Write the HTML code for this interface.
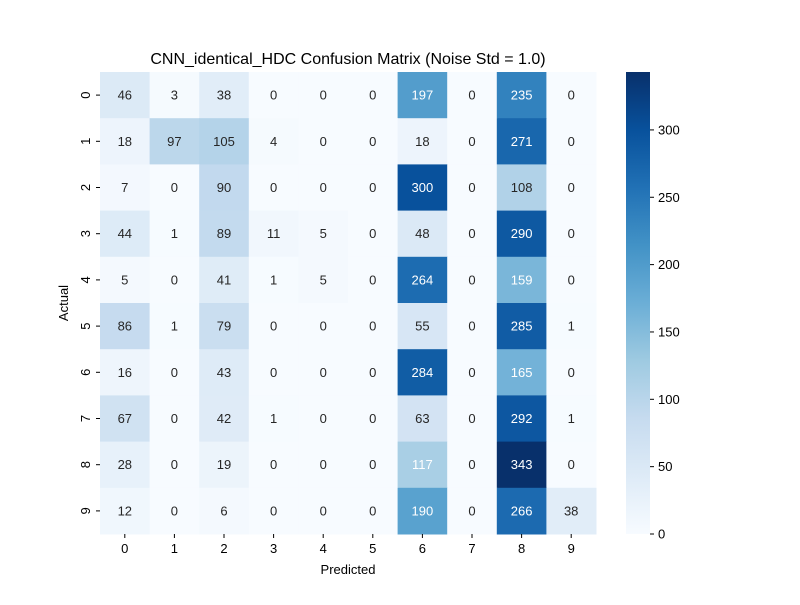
<!DOCTYPE html>
<html><head><meta charset="utf-8"><style>
body{margin:0;background:#fff;font-family:"Liberation Sans","DejaVu Sans",sans-serif;}
</style></head><body>
<svg id="chart" width="800" height="600" xmlns="http://www.w3.org/2000/svg">
<rect width="800" height="600" fill="#fff"/>
<text x="348" y="64" text-anchor="middle" font-size="16" fill="#000">CNN_identical_HDC Confusion Matrix (Noise Std = 1.0)</text>
<g id="cells"></g>
<g id="axes"></g>
<defs><linearGradient id="cbg" x1="0" y1="1" x2="0" y2="0"></linearGradient></defs>
<g id="cbar"></g>
</svg>
<script>
const labels = ['0','1','2','3','4','5','6','7','8','9'];
const row0 = [46,3,38,0,0,0,197,0,235,0];
const row1 = [18,97,105,4,0,0,18,0,271,0];
const row2 = [7,0,90,0,0,0,300,0,108,0];
const row3 = [44,1,89,11,5,0,48,0,290,0];
const row4 = [5,0,41,1,5,0,264,0,159,0];
const row5 = [86,1,79,0,0,0,55,0,285,1];
const row6 = [16,0,43,0,0,0,284,0,165,0];
const row7 = [67,0,42,1,0,0,63,0,292,1];
const row8 = [28,0,19,0,0,0,117,0,343,0];
const row9 = [12,0,6,0,0,0,190,0,266,38];
const matrix = [row0,row1,row2,row3,row4,row5,row6,row7,row8,row9];
const cbTicks = [0,50,100,150,200,250,300];

const NS='http://www.w3.org/2000/svg';
const X0=100,Y0=72,W=496,H=462,n=labels.length;
const cw=W/n,ch=H/n;
const vmax=Math.max(...matrix.flat()),vmin=0;
const stops=['#f7fbff','#deebf7','#c6dbef','#9ecae1','#6baed6','#4292c6','#2171b5','#08519c','#08306b'];
function hx(h){return [1,3,5].map(i=>parseInt(h.substr(i,2),16));}
function color(v){let t=(v-vmin)/(vmax-vmin);t=Math.max(0,Math.min(1,t));const p=t*8,i=Math.min(7,Math.floor(p)),f=p-i;const a=hx(stops[i]),b=hx(stops[i+1]);return 'rgb('+a.map((c,k)=>Math.round(c+(b[k]-c)*f)).join(',')+')';}
const xs=j=>X0+j*cw, ys=i=>Y0+i*ch;
function mk(tag,attrs,parent,txt){const e=document.createElementNS(NS,tag);for(const k in attrs)e.setAttribute(k,attrs[k]);if(txt!==undefined)e.textContent=txt;parent.appendChild(e);return e;}
const cells=document.getElementById('cells');
matrix.forEach((row,i)=>row.forEach((v,j)=>{
 const r=mk('rect',{x:xs(j),y:ys(i),width:cw+0.5,height:ch+0.5,fill:color(v)},cells);
 
 
 const t=mk('text',{x:xs(j)+cw/2,y:ys(i)+ch/2+4.5,'text-anchor':'middle','font-size':13,fill:((v-vmin)/(vmax-vmin))>0.33?'#fff':'#262626'},cells,String(v));
 
 
}));
const ax=document.getElementById('axes');
labels.forEach((l,j)=>{
 const cx=xs(j)+cw/2;
 mk('line',{x1:cx,x2:cx,y1:Y0+H,y2:Y0+H+4,stroke:'#000'},ax);
 const t=mk('text',{x:cx,y:Y0+H+19,'text-anchor':'middle','font-size':13},ax,l);
 
 
 const cy=ys(j)+ch/2;
 mk('line',{x1:X0-4,x2:X0,y1:cy,y2:cy,stroke:'#000'},ax);
 const t2=mk('text',{x:0,y:0,'text-anchor':'middle','font-size':13,transform:'translate('+(X0-10)+','+cy+') rotate(-90)'},ax,l);
 
 
});
const xt=mk('text',{x:X0+W/2,y:574,'text-anchor':'middle','font-size':13},ax,'Predicted');


const yt=mk('text',{x:0,y:0,'text-anchor':'middle','font-size':13,transform:'translate(68,'+(Y0+H/2)+') rotate(-90)'},ax,'Actual');


const g=document.getElementById('cbg');
stops.forEach((s,k)=>mk('stop',{offset:k/8,'stop-color':s},g));
const cb=document.getElementById('cbar');
const CX=626,CW=24;
const cbr=mk('rect',{x:CX,y:Y0,width:CW,height:H,fill:'url(#cbg)'},cb);


const cbY=v=>Y0+H-(v-vmin)/(vmax-vmin)*H;
cbTicks.forEach(v=>{
 mk('line',{x1:CX+CW,x2:CX+CW+4,y1:cbY(v),y2:cbY(v),stroke:'#000'},cb);
 const t=mk('text',{x:CX+CW+8,y:cbY(v)+4.5,'font-size':13},cb,String(v));
 
 
});
</script>
</body></html>
